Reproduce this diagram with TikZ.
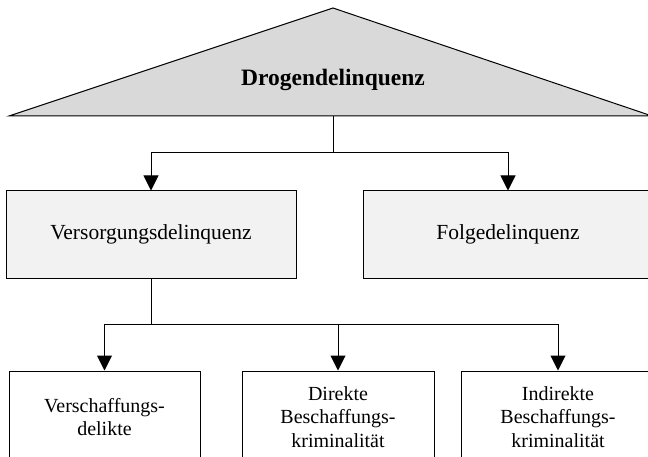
\documentclass[tikz,border=0pt]{standalone}
\usepackage{fontspec}
\setmainfont{Liberation Serif}
\usetikzlibrary{arrows.meta}
\definecolor{topgray}{HTML}{D9D9D9}
\definecolor{midgray}{HTML}{F2F2F2}
\tikzset{
  conn/.style={line width=1pt, draw=black},
  arr/.style={conn, -{Triangle[length=15pt,width=15pt]}},
  midbox/.style={draw=black, line width=1pt, fill=midgray, minimum height=87pt, inner sep=0pt, font=\fontsize{21.5}{24}\selectfont},
  lowbox/.style={draw=black, line width=1pt, fill=white, minimum height=92pt, inner sep=0pt, align=center, font=\fontsize{20}{23.5}\selectfont}
}
\begin{document}
\begin{tikzpicture}[x=1pt,y=-1pt]
\useasboundingbox (0,0) rectangle (648,457);
\clip (0,0) rectangle (648,457);
% top triangle
\draw[line width=1pt, fill=topgray] (9,116) -- (333,8) -- (652,116) -- cycle;
\node[font=\bfseries\fontsize{23.5}{27}\selectfont] (top) at (333,80) {Drogendelinquenz};
\coordinate (tb) at (333,116);
% middle boxes
\node[midbox, minimum width=290pt] (vers) at (151,234.5) {Versorgungsdelinquenz};
\node[midbox, minimum width=290pt] (folg) at (508,234.5) {Folgedelinquenz};
% bottom boxes
\node[lowbox, minimum width=191pt] (vd) at (104.5,417) {Verschaffungs-\\delikte};
\node[lowbox, minimum width=192pt] (db) at (338,417) {Direkte\\Beschaffungs-\\kriminalität};
\node[lowbox, minimum width=194pt] (ib) at (558,417) {Indirekte\\Beschaffungs-\\kriminalität};
% connectors top
\coordinate (j1) at (333,153);
\draw[conn] (tb) -- (j1);
\draw[arr] (j1) -| (vers.north);
\draw[arr] (j1) -| (folg.north);
% connectors bottom
\coordinate (j2) at (151,324);
\draw[conn] (vers.south) -- (j2);
\draw[arr] (j2) -| (vd.north);
\draw[arr] (j2) -| (db.north);
\draw[arr] (j2) -| (ib.north);
\end{tikzpicture}
\end{document}
